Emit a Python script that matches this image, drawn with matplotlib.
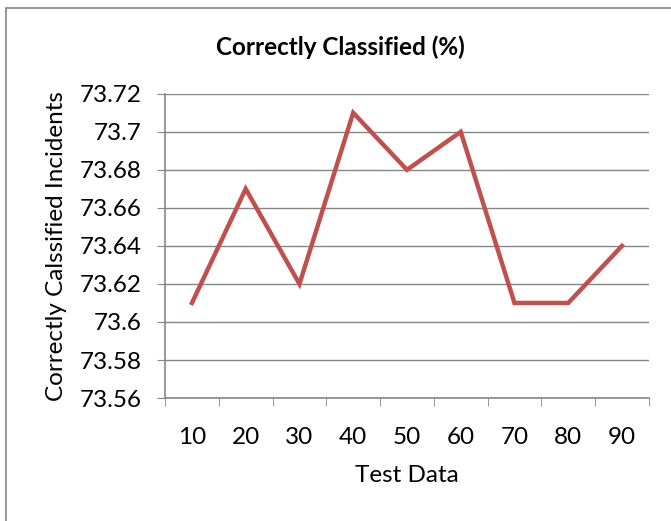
import matplotlib
matplotlib.use("Agg")
import matplotlib.pyplot as plt
import matplotlib.patches as mpatches

categories = ["10", "20", "30", "40", "50", "60", "70", "80", "90"]
values = [73.61, 73.67, 73.62, 73.71, 73.68, 73.70, 73.61, 73.61, 73.64]
yticks = [73.56, 73.58, 73.6, 73.62, 73.64, 73.66, 73.68, 73.7, 73.72]
ytick_labels = ["73.56", "73.58", "73.6", "73.62", "73.64", "73.66", "73.68", "73.7", "73.72"]

plt.rcParams["font.family"] = ["Lato", "DejaVu Sans"]
grey = "#868686"

fig = plt.figure(figsize=(6.71, 5.21), dpi=100)
ax = fig.add_axes([0.246, 0.236, 0.721, 0.584])

x = list(range(len(categories)))
ax.plot(x, values, color="#C0504D", linewidth=3.2, solid_joinstyle="miter")

ax.set_xlim(-0.5, len(categories) - 0.5)
ax.set_ylim(yticks[0], yticks[-1])
ax.set_yticks(yticks)
ax.set_yticklabels(ytick_labels)
ax.set_xticks(x)
ax.set_xticklabels(categories)
ax.set_xticks([i - 0.5 for i in range(len(categories) + 1)], minor=True)

ax.grid(axis="y", color=grey, linewidth=1)
ax.set_axisbelow(True)
for s in ["top", "right"]:
    ax.spines[s].set_visible(False)
for s in ["left", "bottom"]:
    ax.spines[s].set_color(grey)
    ax.spines[s].set_linewidth(1.2)

ax.tick_params(axis="y", length=6, color=grey, labelsize=17.5, pad=11)
ax.tick_params(axis="x", which="major", length=0, labelsize=17.5, pad=21)
ax.tick_params(axis="x", which="minor", length=6, color=grey)

ax.set_xlabel("Test Data", fontsize=17.5, labelpad=12)
ax.set_ylabel("Correctly Calssified Incidents", fontsize=17.5, labelpad=9)
fig.text(0.507, 0.91, "Correctly Classified (%)", ha="center", va="center",
         fontsize=17.5, fontweight="bold")

border = mpatches.Rectangle((6 / 671, -0.01), 1.0, 1 - 8 / 521 + 0.01,
                            transform=fig.transFigure, fill=False,
                            edgecolor=grey, linewidth=1.2)
fig.patches.append(border)

fig.savefig("out.png", dpi=100)
